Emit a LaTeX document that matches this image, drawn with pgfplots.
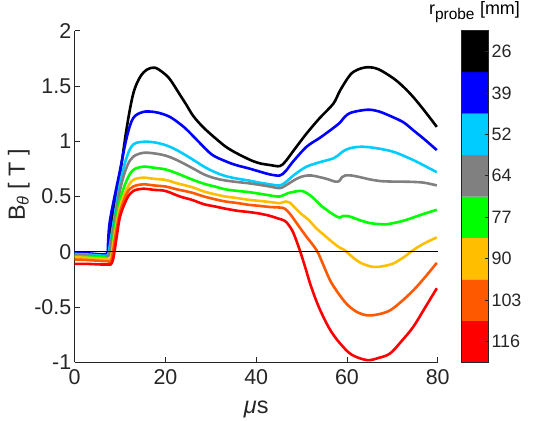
\documentclass[border=0pt]{standalone}
\usepackage{pgfplots}
\pgfplotsset{compat=1.18}
\usepackage{fontspec}
\setmainfont{Liberation Sans}

\definecolor{axgray}{RGB}{38,38,38}
\definecolor{c26}{RGB}{0,0,0}
\definecolor{c39}{RGB}{0,0,255}
\definecolor{c52}{RGB}{0,204,255}
\definecolor{c64}{RGB}{128,128,128}
\definecolor{c77}{RGB}{0,255,0}
\definecolor{c90}{RGB}{255,191,0}
\definecolor{c103}{RGB}{255,89,0}
\definecolor{c116}{RGB}{255,0,0}

\newcommand{\axfont}{\fontsize{21.5}{23}\selectfont}
\newcommand{\lblfont}{\fontsize{23.5}{25}\selectfont}
\newcommand{\cbfont}{\fontsize{18}{20}\selectfont}

\begin{document}
\begin{tikzpicture}[x=1bp,y=1bp]
\path[use as bounding box] (0,0) rectangle (560,420);

% main panel: B_theta traces for each probe radius
\begin{axis}[
  at={(74.7bp,57.7bp)}, anchor=south west,
  scale only axis, width=363bp, height=331.6bp,
  xmin=0, xmax=80, ymin=-1, ymax=2,
  axis lines*=left,
  axis line style={-, axgray, line width=0.6bp},
  tick align=inside, major tick length=5bp,
  tick style={axgray, line width=0.6bp},
  xtick={0,20,40,60,80},
  ytick={-1,-0.5,0,0.5,1,1.5,2},
  ticklabel style={font=\axfont, text=axgray},
  xticklabel style={yshift=-4bp},
  /pgf/number format/assume math mode=true,
  xlabel={\textit{μ}s},
  xlabel style={font=\lblfont, text=axgray, at={(axis description cs:0.5,0)}, anchor=base, yshift=-50.7bp},
  ylabel={B\textsubscript{\textit{θ}} [ T ]},
  ylabel style={font=\lblfont, text=axgray, at={(axis description cs:-0.137,0.535)}, anchor=base, rotate=0},
  every axis plot/.append style={line width=2.6bp, line join=round, smooth, tension=0.55},
  clip=false,
]
\addplot[c26] coordinates {
(0,-0.02) (3,-0.025) (7,-0.03) (7.6,0.05) (8.5,0.38) (10,0.71) (11.5,1.13) (12.9,1.43) (14.4,1.58) (16,1.65) (17.7,1.665) (19.5,1.62) (21,1.56) (23.2,1.42) (24.6,1.33) (26.1,1.23) (28,1.14) (29.8,1.07) (31.5,1.01) (33.3,0.95) (35.3,0.90) (37.2,0.86) (39,0.825) (40.8,0.80) (43,0.785) (45.2,0.775) (46.5,0.82) (48.5,0.93) (51.1,1.07) (54,1.21) (57,1.34) (58.5,1.46) (60.7,1.60) (62.5,1.65) (64.7,1.67) (67,1.65) (70.2,1.57) (72.5,1.49) (74.6,1.40) (77,1.28) (79.8,1.13)
};
\addplot[c39] coordinates {
(0,-0.01) (3,-0.015) (7,-0.02) (7.3,0.05) (7.8,0.29) (10,0.74) (11.5,1.04) (12.9,1.21) (15.1,1.265) (17.5,1.265) (19.5,1.245) (21.4,1.21) (24.3,1.12) (27.2,1.0) (30.2,0.88) (33.2,0.82) (35.5,0.785) (38.3,0.755) (40.8,0.725) (43,0.70) (45.2,0.69) (46.5,0.73) (48,0.81) (51.1,0.95) (54,1.03) (57,1.12) (58.5,1.17) (59.5,1.22) (61,1.26) (64.5,1.285) (67,1.27) (70,1.22) (72.5,1.17) (74.6,1.10) (77,1.02) (79.8,0.92)
};
\addplot[c52] coordinates {
(0,-0.02) (3,-0.025) (7,-0.035) (7.5,0.0) (8.3,0.2) (10,0.62) (11.5,0.86) (12.9,0.97) (15.1,0.995) (17.5,0.99) (20,0.965) (22.5,0.92) (25.8,0.84) (28.5,0.77) (30.9,0.72) (33.2,0.685) (36,0.66) (38.3,0.645) (40.8,0.625) (43,0.61) (45.2,0.60) (46.5,0.63) (48.5,0.70) (51.1,0.77) (54,0.81) (57,0.845) (58,0.87) (59,0.905) (60.5,0.935) (63,0.95) (66,0.94) (70.2,0.905) (74.6,0.83) (77,0.78) (79.8,0.72)
};
\addplot[c64] coordinates {
(0,-0.03) (3,-0.035) (7,-0.045) (7.7,0.0) (8.5,0.2) (10,0.56) (11.5,0.77) (12.9,0.86) (15.1,0.895) (17.5,0.89) (20,0.87) (22.5,0.83) (25.8,0.76) (28.5,0.70) (30.9,0.665) (33.2,0.645) (36,0.63) (38.3,0.62) (40.8,0.605) (43,0.59) (45.2,0.575) (46.5,0.6) (48.9,0.66) (50.5,0.685) (52.2,0.69) (54,0.675) (55.5,0.66) (57.4,0.635) (58.3,0.64) (58.9,0.675) (59.6,0.69) (61,0.69) (62.9,0.675) (65,0.655) (67.3,0.64) (70,0.635) (73.9,0.633) (77,0.625) (79.8,0.60)
};
\addplot[c77] coordinates {
(0,-0.04) (3,-0.045) (7,-0.055) (7.9,-0.12) (8.2,0.0) (8.8,0.2) (10,0.47) (11.5,0.65) (12.9,0.74) (15.1,0.77) (17.5,0.76) (20,0.745) (22.5,0.71) (25.8,0.655) (28.5,0.615) (30.9,0.59) (33.2,0.565) (36,0.55) (38.3,0.54) (40.8,0.525) (43,0.51) (45.2,0.50) (47,0.53) (49.3,0.55) (50.5,0.545) (51.9,0.51) (53,0.47) (54.5,0.41) (55.5,0.38) (56.5,0.35) (57.7,0.32) (58.5,0.31) (59.2,0.325) (60.5,0.32) (62.9,0.285) (65,0.26) (67.3,0.25) (69,0.25) (72.4,0.28) (76,0.33) (79.8,0.38)
};
\addplot[c90] coordinates {
(0,-0.05) (3,-0.055) (7,-0.065) (8,-0.05) (8.8,0.15) (10,0.41) (11.5,0.57) (12.9,0.65) (15.1,0.67) (17.5,0.66) (20,0.65) (22.5,0.62) (25.8,0.585) (28.5,0.545) (30.9,0.52) (33.2,0.50) (36,0.485) (38.3,0.47) (40.8,0.46) (43,0.45) (45.2,0.44) (46.5,0.455) (47.4,0.445) (48.5,0.40) (50,0.34) (51.5,0.29) (53.3,0.21) (55,0.15) (57,0.08) (58.5,0.035) (59.5,0.015) (60.7,-0.03) (63,-0.10) (65.8,-0.137) (68,-0.13) (70.2,-0.106) (72.5,-0.05) (74.6,0.015) (77,0.075) (79.8,0.13)
};
\addplot[c103] coordinates {
(0,-0.07) (3,-0.075) (7,-0.085) (8.1,-0.07) (9,0.15) (10,0.36) (11.5,0.53) (12.9,0.59) (15.1,0.61) (17.5,0.60) (20,0.59) (22.5,0.565) (25.8,0.535) (28.5,0.50) (30.9,0.475) (33.2,0.455) (36,0.44) (38.3,0.425) (40.8,0.415) (43,0.405) (45.2,0.40) (46.3,0.39) (47.5,0.34) (48.9,0.26) (51,0.14) (53.3,0.015) (54.8,-0.12) (56.3,-0.26) (58,-0.37) (59.9,-0.47) (62,-0.54) (64.4,-0.575) (67,-0.565) (69.5,-0.53) (72,-0.45) (74.6,-0.35) (77,-0.24) (79.8,-0.10)
};
\addplot[c116] coordinates {
(0,-0.11) (3,-0.11) (7,-0.115) (8.3,-0.09) (9.2,0.12) (10,0.32) (11.5,0.48) (12.9,0.55) (15.1,0.57) (17.5,0.56) (20,0.55) (23.2,0.50) (25.8,0.47) (28.5,0.43) (30.9,0.41) (33.2,0.39) (36,0.37) (38.3,0.36) (40.8,0.345) (43,0.325) (44.9,0.30) (46.3,0.28) (47.2,0.24) (48.2,0.17) (49.6,0.015) (50.8,-0.14) (51.9,-0.29) (53.3,-0.45) (54.8,-0.59) (56.5,-0.72) (58.5,-0.83) (61,-0.93) (64.4,-0.98) (67,-0.96) (69.5,-0.92) (72,-0.81) (74.6,-0.68) (77,-0.52) (79.8,-0.33)
};
% zero reference line
\addplot[black, line width=0.6bp, sharp plot] coordinates {(0,0) (80,0)};
\end{axis}

% colour key: one band per probe radius
\begin{axis}[
  at={(461bp,57.7bp)}, anchor=south west,
  scale only axis, width=27bp, height=331.6bp,
  xmin=0, xmax=1, ymin=0, ymax=8,
  xtick=\empty,
  ytick={0.5,1.5,2.5,3.5,4.5,5.5,6.5,7.5},
  yticklabels={116,103,90,77,64,52,39,26},
  ytick pos=right, yticklabel pos=right,
  tick align=inside, major tick length=3bp,
  tick style={axgray, line width=0.6bp},
  axis line style={axgray, line width=0.6bp},
  ticklabel style={font=\cbfont, text=axgray},
  axis on top,
  title={r\textsubscript{\fontsize{15.5}{16}\selectfont probe} [mm]},
  title style={font=\fontsize{18}{20}\selectfont, at={(axis description cs:0.5,1)}, anchor=base, yshift=10bp},
]
\addplot[fill=c116, draw=none] coordinates {(0,0) (1,0) (1,1) (0,1) (0,0)};
\addplot[fill=c103, draw=none] coordinates {(0,1) (1,1) (1,2) (0,2) (0,1)};
\addplot[fill=c90, draw=none] coordinates {(0,2) (1,2) (1,3) (0,3) (0,2)};
\addplot[fill=c77, draw=none] coordinates {(0,3) (1,3) (1,4) (0,4) (0,3)};
\addplot[fill=c64, draw=none] coordinates {(0,4) (1,4) (1,5) (0,5) (0,4)};
\addplot[fill=c52, draw=none] coordinates {(0,5) (1,5) (1,6) (0,6) (0,5)};
\addplot[fill=c39, draw=none] coordinates {(0,6) (1,6) (1,7) (0,7) (0,6)};
\addplot[fill=c26, draw=none] coordinates {(0,7) (1,7) (1,8) (0,8) (0,7)};
\end{axis}
\end{tikzpicture}
\end{document}
